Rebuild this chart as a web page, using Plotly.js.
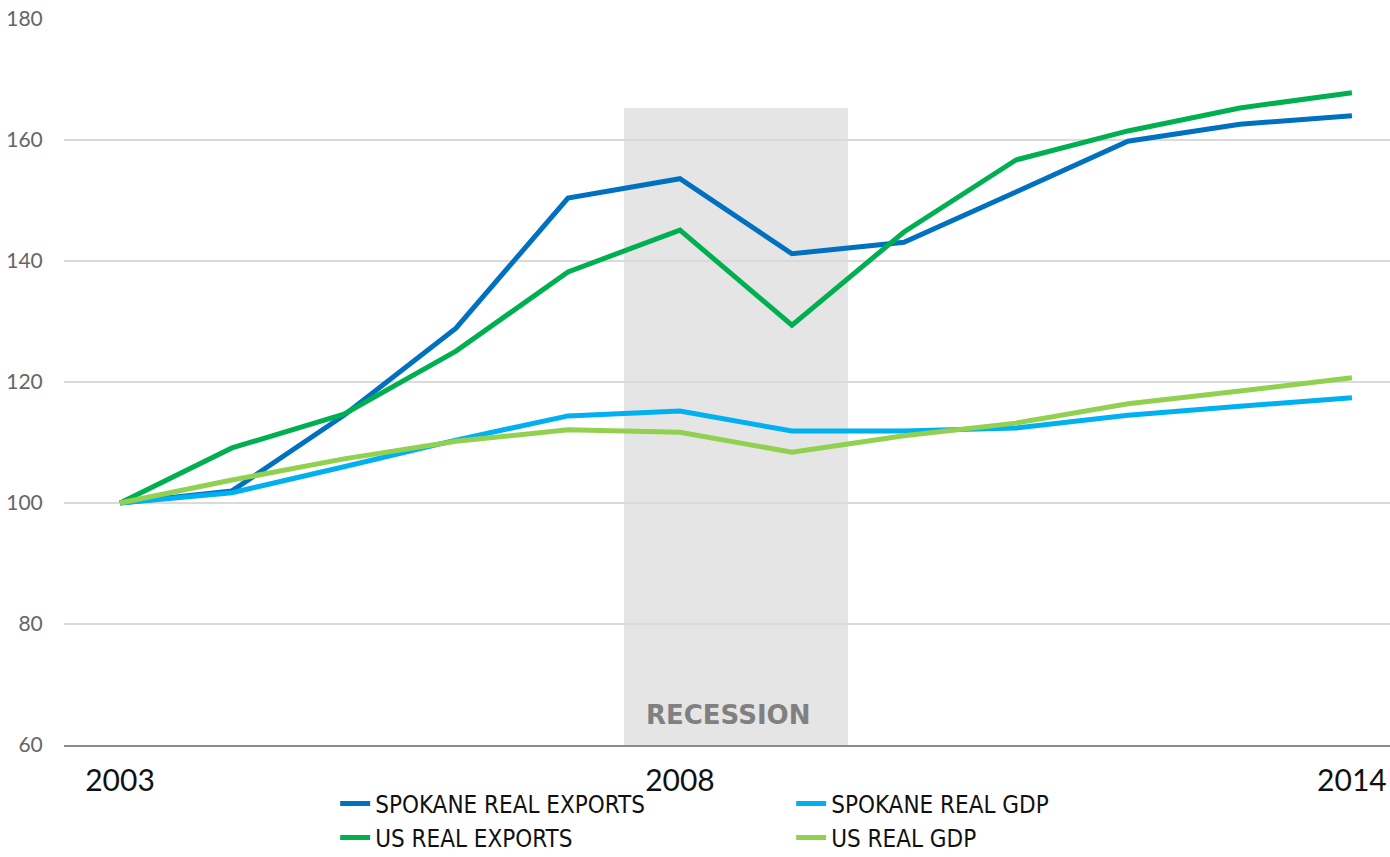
<!DOCTYPE html>
<html>
<head>
<meta charset="utf-8">
<script src="https://cdn.plot.ly/plotly-3.0.1.min.js"></script>
<style>html,body{margin:0;padding:0;background:#fff;}#chart{width:1390px;height:857px;}</style>
</head>
<body>
<div id="chart"></div>
<script>
const years = [2003,2004,2005,2006,2007,2008,2009,2010,2011,2012,2013,2014];
const spokaneExports = [100,102,114.5,128.9,150.4,153.6,141.2,143.1,151.4,159.8,162.6,164.0];
const spokaneGDP = [100,101.7,106.0,110.4,114.4,115.2,111.9,111.9,112.4,114.5,116.0,117.4];
const usExports = [100,109.1,114.7,125.1,138.2,145.1,129.4,144.8,156.7,161.5,165.3,167.8];
const usGDP = [100,103.8,107.3,110.2,112.1,111.7,108.4,111.1,113.2,116.4,118.5,120.7];
const xTickVals = [2003,2008,2014];
const xTickText = ['2003','2008','2014'];
const recession = {start:2007.5, end:2009.5, top:165.3, label:'RECESSION'};

const mk = (name, y, color) => ({
  x: years, y: y, name: name, type: 'scatter', mode: 'lines',
  line: {color: color, width: 5}
});
const data = [
  mk('SPOKANE REAL EXPORTS', spokaneExports, '#0070c0'),
  mk('SPOKANE REAL GDP', spokaneGDP, '#00b0f0'),
  mk('US REAL EXPORTS', usExports, '#00b050'),
  mk('US REAL GDP', usGDP, '#92d050')
];
const layout = {
  width: 1390, height: 857,
  margin: {l: 64, r: 0, t: 19, b: 112, autoexpand: false},
  paper_bgcolor: '#fff', plot_bgcolor: '#fff',
  font: {family: 'Lato, sans-serif'},
  showlegend: true,
  legend: {
    orientation: 'h', x: 0.2045, xanchor: 'left', y: -0.05, yanchor: 'top',
    entrywidth: 411, entrywidthmode: 'pixels', tracegroupgap: 0,
    font: {family: '"Liberation Sans Narrow", "DejaVu Sans Condensed", sans-serif', size: 24, color: '#111'},
    bgcolor: 'rgba(0,0,0,0)'
  },
  xaxis: {
    range: [2002.5, 2014.34], tickvals: xTickVals, ticktext: xTickText,
    showgrid: false, zeroline: false, showline: true, linecolor: '#8c8c8c', linewidth: 2,
    ticks: 'outside', ticklen: 8, tickcolor: 'rgba(0,0,0,0)',
    tickfont: {family: 'Lato, sans-serif', size: 30, color: '#111'}, fixedrange: true
  },
  yaxis: {
    range: [60, 180], dtick: 20, tick0: 60,
    showgrid: true, gridcolor: '#dadada', gridwidth: 2, zeroline: false, showline: false,
    ticks: 'outside', ticklen: 16, tickcolor: 'rgba(0,0,0,0)',
    tickfont: {family: 'Lato, sans-serif', size: 21, color: '#666'}, fixedrange: true
  },
  shapes: [{
    type: 'rect', xref: 'x', yref: 'y', layer: 'below',
    x0: recession.start, x1: recession.end, y0: 60, y1: recession.top,
    fillcolor: '#e5e5e5', line: {width: 0}
  }],
  annotations: [{
    xref: 'x', yref: 'y', x: 2008.43, y: 65,
    text: '<b>' + recession.label + '</b>', showarrow: false,
    font: {family: '"DejaVu Sans", sans-serif', size: 26, color: '#808080'}
  }]
};
Plotly.newPlot('chart', data, layout, {displayModeBar: false, staticPlot: true});
</script>
</body>
</html>
